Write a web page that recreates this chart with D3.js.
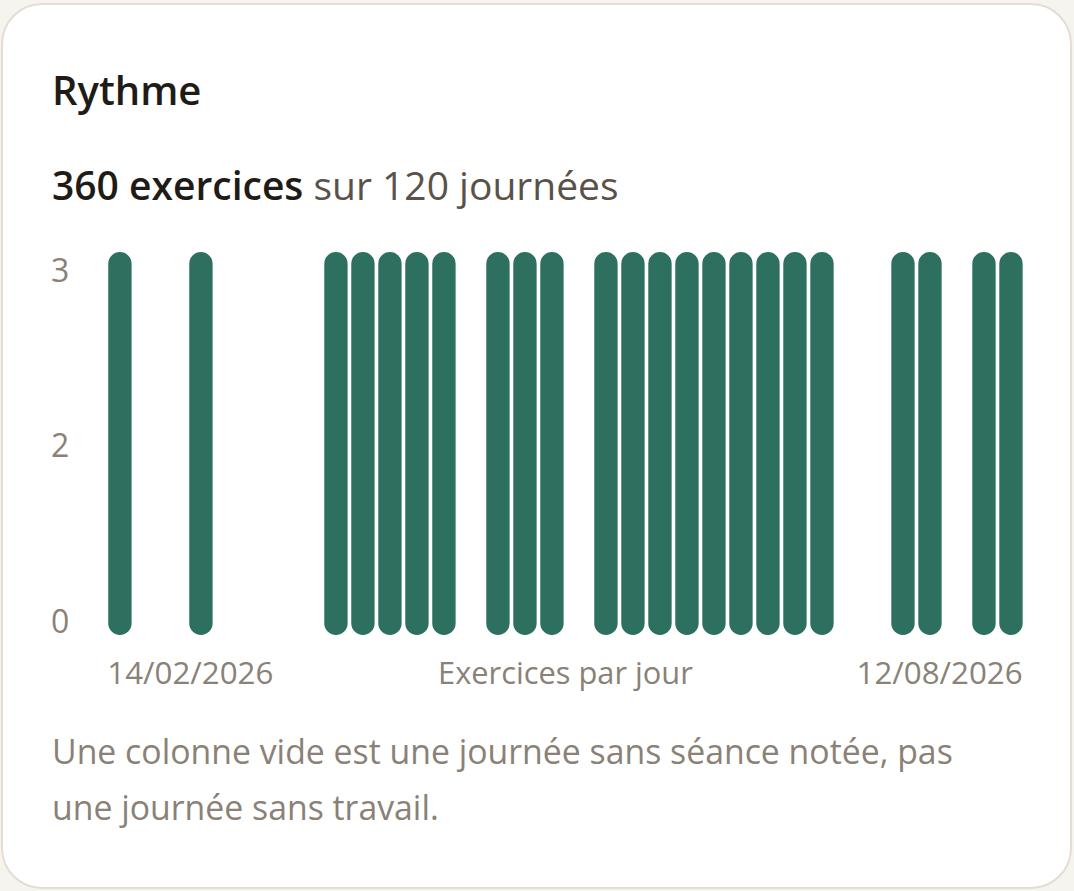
<html><head><meta charset="UTF-8"><title>Rythme</title>
<style>
  body, html {
    margin: 0;
    padding: 0;
    width: 100%;
    height: 100%;
    overflow: hidden;
    background-color: #f6f4ee;
    font-family: 'Open Sans', 'Noto Sans', sans-serif;
  }
</style>
</head>
<body>
<div id="chart"></div>
<script src="https://cdn.jsdelivr.net/npm/d3@7"></script>
<script>
// exercices notés par jour, une valeur par colonne
const dayValues = [3, 0, 0, 3, 0, 0, 0, 0, 3, 3, 3, 3, 3, 0, 3, 3, 3, 0,
                   3, 3, 3, 3, 3, 3, 3, 3, 3, 0, 0, 3, 3, 0, 3, 3];
const yTicks = [0, 1.5, 3];
const dateLabels = ["14/02/2026", "12/08/2026"];
const axisTitle = "Exercices par jour";
const title = "Rythme";
const summaryBold = "360 exercices";
const summaryRest = " sur 120 journées";
const noteLines = ["Une colonne vide est une journée sans séance notée, pas",
                   "une journée sans travail."];

const width = 1074, height = 891;

const svg = d3.select("#chart").append("svg")
  .attr("width", width)
  .attr("height", height);

// carte
svg.append("rect")
  .attr("x", 2).attr("y", 4)
  .attr("width", 1069).attr("height", 884)
  .attr("rx", 40)
  .attr("fill", "#fff")
  .attr("stroke", "#e4ded2")
  .attr("stroke-width", 2);

svg.append("text")
  .attr("x", 52).attr("y", 105)
  .attr("fill", "#1f1c17")
  .attr("font-size", 40)
  .attr("font-weight", 600)
  .text(title);

const sub = svg.append("text")
  .attr("x", 52).attr("y", 200)
  .attr("font-size", 39);
sub.append("tspan").attr("fill", "#1f1c17").attr("font-weight", 600).text(summaryBold);
sub.append("tspan").attr("fill", "#5a5248").text(summaryRest);

const x = d3.scaleBand()
  .domain(d3.range(dayValues.length))
  .range([104.6, 1026.3])
  .padding(0.135);

const y = d3.scaleLinear()
  .domain([0, d3.max(dayValues)])
  .range([635, 252]);

// étiquettes de l'axe, rentrées dans la hauteur des colonnes
const yLab = y.copy().range([y(0) - 14, y(3) + 18]);

svg.append("g")
  .selectAll("rect")
  .data(dayValues.map((v, i) => ({ v, i })).filter(d => d.v > 0))
  .join("rect")
  .attr("x", d => x(d.i))
  .attr("y", d => y(d.v))
  .attr("width", x.bandwidth())
  .attr("height", d => y(0) - y(d.v))
  .attr("rx", x.bandwidth() / 2)
  .attr("fill", "#2d705f");

const gray = "#8a8177";

svg.append("g")
  .selectAll("text")
  .data(yTicks)
  .join("text")
  .attr("x", 51)
  .attr("y", d => yLab(d))
  .attr("dy", "0.36em")
  .attr("fill", gray)
  .attr("font-size", 32)
  .text(d => d3.format(".0f")(d));

const dateY = 684;
svg.append("text")
  .attr("x", x(0) - 1).attr("y", dateY)
  .attr("fill", gray).attr("font-size", 31.3)
  .text(dateLabels[0]);
svg.append("text")
  .attr("x", x(dayValues.length - 1) + x.bandwidth()).attr("y", dateY)
  .attr("text-anchor", "end")
  .attr("fill", gray).attr("font-size", 31.3)
  .text(dateLabels[1]);
svg.append("text")
  .attr("x", (x(0) + x(dayValues.length - 1) + x.bandwidth()) / 2).attr("y", dateY)
  .attr("text-anchor", "middle")
  .attr("fill", gray).attr("font-size", 30.8)
  .text(axisTitle);

svg.append("g")
  .selectAll("text")
  .data(noteLines)
  .join("text")
  .attr("x", 52)
  .attr("y", (d, i) => 764 + i * 56)
  .attr("fill", gray)
  .attr("font-size", 33.8)
  .text(d => d);
</script>
</body></html>
